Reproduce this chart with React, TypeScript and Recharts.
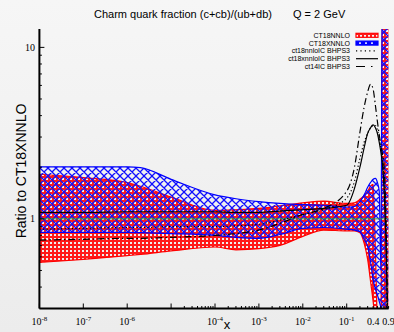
import React from 'react';
import { Area, ComposedChart, Legend, Line, XAxis, YAxis } from 'recharts';

// x grid (log)
const xValues = [1e-8, 1e-7, 1e-6, 2e-6, 1e-5, 1e-4, 3e-4, 1e-3, 3e-3, 1e-2, 3e-2, 0.1, 0.15, 0.2, 0.25, 0.3, 0.35, 0.4, 0.45, 0.5, 0.55, 0.6, 0.65, 0.7, 0.8, 0.9];

// CT18NNLO error band (ratio to CT18XNNLO)
const ct18High = [1.82, 1.74, 1.63, 1.55, 1.34, 1.12, 1.13, 1.15, 1.19, 1.24, 1.27, 1.23, 1.24, 1.3, 1.37, 1.45, 1.55, 1.59, 0.66, 0.25, 0.2, 0.2, 30, 30, 30, 30];
const ct18Low = [0.557, 0.58, 0.61, 0.62, 0.65, 0.685, 0.66, 0.67, 0.7, 0.79, 0.86, 0.85, 0.85, 0.83, 0.72, 0.58, 0.43, 0.33, 0.25, 0.2, 0.2, 0.2, 0.1, 0.1, 0.1, 0.1];

// CT18XNNLO error band
const ct18xHigh = [2.01, 2.01, 2.01, 1.99, 1.7, 1.38, 1.31, 1.26, 1.23, 1.21, 1.2, 1.17, 1.18, 1.26, 1.38, 1.53, 1.63, 1.7, 1.72, 1.63, 1.45, 0.5, 30, 30, 30, 30];
const ct18xLow = [0.834, 0.834, 0.834, 0.83, 0.82, 0.8, 0.78, 0.77, 0.81, 0.88, 0.89, 0.87, 0.86, 0.84, 0.76, 0.69, 0.56, 0.44, 0.39, 0.36, 0.33, 0.3, 0.1, 0.1, 0.1, 0.1];
const ct18xCentral = [1, 1, 1, 1, 1, 1, 1, 1, 1, 1, 1, 1, 1, 1, 1, 1, 1, 1, 1, 1, 1, 1, 1, 1, 1, 1];

// intrinsic charm curves
const ct18nnloIC = [0.87, 0.88, 0.89, 0.89, 0.9, 0.9, 0.91, 0.93, 0.98, 1.06, 1.13, 1.32, 1.65, 2.25, 2.8, 3.15, 3.4, 3.5, 3.5, 3.3, 2.95, 2.6, 2.2, 1.7, 0.7, 0.1];
const ct18xnnloIC = [1.09, 1.09, 1.1, 1.1, 1.1, 1.1, 1.09, 1.09, 1.11, 1.13, 1.15, 1.2, 1.5, 2.0, 2.6, 3.15, 3.4, 3.53, 3.4, 3.15, 2.8, 2.45, 2.1, 1.6, 0.6, 0.1];
const ct14IC = [0.752, 0.76, 0.77, 0.77, 0.78, 0.8, 0.82, 0.86, 0.94, 1.06, 1.15, 1.45, 2.0, 3.2, 4.5, 5.5, 6.1, 5.7, 4.6, 3.7, 3.1, 2.7, 2.4, 2.1, 0.8, 0.1];

// axes
const xMajorTicks = [1e-8, 1e-7, 1e-6, 1e-5, 1e-4, 1e-3, 1e-2, 1e-1];
const xMinorDecades = [1e-5, 1e-4, 1e-3, 1e-2, 1e-1];
const xLabelExponents = [-8, -7, -6, -4, -3, -2, -1];
const xPlainLabels = [0.4, 0.9];
const yMajorTicks = [1, 10];
const yMinorTicks = [0.4, 0.5, 0.6, 0.7, 0.8, 0.9, 2, 3, 4, 5, 6, 7, 8, 9];

const legendItems = [
  { name: 'CT18NNLO', kind: 'red' },
  { name: 'CT18XNNLO', kind: 'blue' },
  { name: 'ct18nnloIC BHPS3', kind: 'dotted' },
  { name: 'ct18xnnloIC BHPS3', kind: 'solid' },
  { name: 'ct14IC BHPS3', kind: 'dashdot' },
];

const W = 394;
const H = 332;
const SANS = 'Liberation Sans, Arial, sans-serif';
const SERIF = 'Liberation Serif, Times New Roman, serif';

const xTicks: number[] = [...xMajorTicks];
xMinorDecades.forEach((d) => {
  for (let k = 2; k <= 9; k++) xTicks.push(d * k);
});
const yTicks = [...yMajorTicks, ...yMinorTicks];

const rows = xValues.map((x, i) => ({
  x,
  ct18: [ct18Low[i], ct18High[i]],
  ct18x: [ct18xLow[i], ct18xHigh[i]],
  central: ct18xCentral[i],
  nnloIC: ct18nnloIC[i],
  xnnloIC: ct18xnnloIC[i],
  ct14: ct14IC[i],
}));

const near = (a: number, b: number) => Math.abs(Math.log10(a) - Math.log10(b)) < 1e-6;

function BottomTick(props: any) {
  const { x, y, payload } = props;
  const v = payload.value;
  const major = xMajorTicks.some((t) => near(t, v));
  const exp = xLabelExponents.find((e) => near(Math.pow(10, e), v));
  const plain = xPlainLabels.find((p) => near(p, v));
  return (
    <g>
      <line x1={x} x2={x} y1={y} y2={y - (major ? 5 : 2.5)} stroke="#000" />
      {exp !== undefined && (
        <text x={x} y={y + 16.5} textAnchor="middle" fontFamily={SERIF} fontSize={10} fill="#000">
          10<tspan fontSize={7} dy={-4.5}>{exp}</tspan>
        </text>
      )}
      {plain !== undefined && (
        <text x={x} y={y + 16.5} textAnchor="middle" fontFamily={SERIF} fontSize={10} fill="#000">
          {plain}
        </text>
      )}
    </g>
  );
}

function TopTick(props: any) {
  const { x, y, payload } = props;
  const major = xMajorTicks.some((t) => near(t, payload.value));
  return <line x1={x} x2={x} y1={y} y2={y + (major ? 5 : 2.5)} stroke="#000" />;
}

function LeftTick(props: any) {
  const { x, y, payload } = props;
  const major = yMajorTicks.some((t) => near(t, payload.value));
  return (
    <g>
      <line x1={x} x2={x + (major ? 5 : 2.5)} y1={y} y2={y} stroke="#000" />
      {major && (
        <text x={x - 4.5} y={y + 3.3} textAnchor="end" fontFamily={SERIF} fontSize={10} fill="#000">
          {payload.value}
        </text>
      )}
    </g>
  );
}

function RightTick(props: any) {
  const { x, y, payload } = props;
  const major = yMajorTicks.some((t) => near(t, payload.value));
  return <line x1={x} x2={x - (major ? 5 : 2.5)} y1={y} y2={y} stroke="#000" />;
}

function LegendBox() {
  return (
    <svg width={200} height={44} style={{ display: 'block' }}>
      {legendItems.map((item, i) => {
        const cy = 6.3 + i * 7.8;
        return (
          <g key={item.name}>
            <text x={160} y={cy + 2.5} textAnchor="end" fontFamily={SANS} fontSize={7} fill="#000">
              {item.name}
            </text>
            {item.kind === 'red' && <rect x={166} y={cy - 2} width={22} height={4} fill="url(#redHatch)" stroke="#ff0000" strokeWidth={1.2} />}
            {item.kind === 'blue' && <rect x={166} y={cy - 2} width={22} height={4} fill="#0000ff" stroke="#0000ff" strokeWidth={1.2} />}
            {item.kind === 'blue' && [169, 175, 181].map((dx) => <rect key={dx} x={dx} y={cy - 0.7} width={2} height={1.4} fill="#fff" />)}
            {item.kind === 'dotted' && <line x1={166} x2={188} y1={cy} y2={cy} stroke="#000" strokeWidth={1.2} strokeDasharray="1.2 3.2" />}
            {item.kind === 'solid' && <line x1={166} x2={188} y1={cy} y2={cy} stroke="#000" strokeWidth={1.2} />}
            {item.kind === 'dashdot' && <line x1={166} x2={188} y1={cy} y2={cy} stroke="#000" strokeWidth={1.2} strokeDasharray="9 6 1.5 6" />}
          </g>
        );
      })}
    </svg>
  );
}

export default function App() {
  return (
    <div style={{ position: 'absolute', left: 0, top: 0, width: W, height: H, background: 'linear-gradient(#f6f6f6, #ececec)' }}>
      <ComposedChart width={W} height={H} data={rows} margin={{ top: 29, right: 5.4, bottom: 0, left: 0 }}>
        <defs>
          <pattern id="redHatch" width={4} height={4} patternUnits="userSpaceOnUse">
            <path d="M0 0h4v2h-4z M0 2h2v2h-2z" fill="#ff1a1a" />
          </pattern>
          <pattern id="blueHatch" width={8} height={8} patternUnits="userSpaceOnUse">
            <path d="M0 0L8 8M8 0L0 8M-1 1L1 -1M7 9L9 7M-1 7L1 9M7 -1L9 1" stroke="#1010ff" strokeWidth={1.3} fill="none" />
          </pattern>
        </defs>
        <XAxis
          dataKey="x"
          type="number"
          scale="log"
          domain={[1e-8, 0.9]}
          allowDataOverflow
          ticks={xTicks}
          interval={0}
          height={23.5}
          tickSize={0}
          tickMargin={0}
          tickLine={false}
          tick={<BottomTick />}
          axisLine={{ stroke: '#000', strokeWidth: 2 }}
        />
        <XAxis
          xAxisId="top"
          orientation="top"
          dataKey="x"
          type="number"
          scale="log"
          domain={[1e-8, 0.9]}
          allowDataOverflow
          ticks={xTicks}
          interval={0}
          height={0}
          tickSize={0}
          tickMargin={0}
          tickLine={false}
          tick={<TopTick />}
          axisLine={{ stroke: '#000', strokeWidth: 2 }}
        />
        <YAxis
          type="number"
          scale="log"
          domain={[0.3, 12.8]}
          allowDataOverflow
          ticks={yTicks}
          interval={0}
          width={39.4}
          tickSize={0}
          tickMargin={0}
          tickLine={false}
          tick={<LeftTick />}
          axisLine={{ stroke: '#000', strokeWidth: 2 }}
        />
        <YAxis
          yAxisId="right"
          orientation="right"
          type="number"
          scale="log"
          domain={[0.3, 12.8]}
          allowDataOverflow
          ticks={yTicks}
          interval={0}
          width={0}
          tickSize={0}
          tickMargin={0}
          tickLine={false}
          tick={<RightTick />}
          axisLine={{ stroke: '#000', strokeWidth: 2 }}
        />
        <Area type="monotone" dataKey="ct18" stroke="#ff0000" strokeWidth={1.2} fill="url(#redHatch)" fillOpacity={1} dot={false} activeDot={false} isAnimationActive={false} />
        <Area type="monotone" dataKey="ct18x" stroke="#0000ff" strokeWidth={1.2} fill="url(#blueHatch)" fillOpacity={1} dot={false} activeDot={false} isAnimationActive={false} />
        <Line type="monotone" dataKey="central" stroke="#2a9a3a" strokeWidth={1} dot={false} activeDot={false} isAnimationActive={false} />
        <Line type="monotone" dataKey="nnloIC" stroke="#000" strokeWidth={1.2} strokeDasharray="1.2 2.4" dot={false} activeDot={false} isAnimationActive={false} />
        <Line type="monotone" dataKey="xnnloIC" stroke="#000" strokeWidth={1.2} dot={false} activeDot={false} isAnimationActive={false} />
        <Line type="monotone" dataKey="ct14" stroke="#000" strokeWidth={1.2} strokeDasharray="7 3 1.5 3" dot={false} activeDot={false} isAnimationActive={false} />
        <Legend layout="vertical" align="center" verticalAlign="middle" content={() => <LegendBox />} wrapperStyle={{ left: 190, top: 29, width: 200, height: 44 }} />
        <text x={94} y={17.5} fontFamily={SANS} fontSize={11} fill="#000">
          Charm quark fraction (c+cb)/(ub+db)
          <tspan x={293}>Q = 2 GeV</tspan>
        </text>
        <text transform="translate(26,171) rotate(-90)" textAnchor="middle" fontFamily={SANS} fontSize={14} fill="#000">
          Ratio to CT18XNNLO
        </text>
        <text x={227} y={329} textAnchor="middle" fontFamily={SANS} fontSize={13} fill="#000">
          x
        </text>
      </ComposedChart>
    </div>
  );
}
